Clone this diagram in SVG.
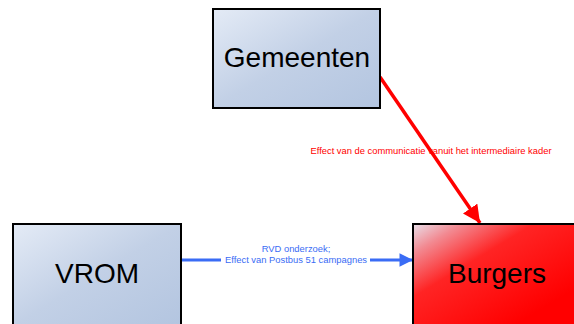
<svg xmlns="http://www.w3.org/2000/svg" width="574" height="324" viewBox="0 0 574 324">
<style>
.box{stroke:#000;stroke-width:2}
.lbl{font-family:"Liberation Sans",Arial,sans-serif;font-size:28px;fill:#000;text-anchor:middle}
.small{font-family:"Liberation Sans",Arial,sans-serif;font-size:9.4px;text-anchor:middle}
</style>
<defs>
<linearGradient id="gBlue" x1="0" y1="0" x2="1" y2="1">
<stop offset="0" stop-color="#e4ebf6"/>
<stop offset="0.5" stop-color="#c2d0e6"/>
<stop offset="1" stop-color="#b3c5e0"/>
</linearGradient>
<linearGradient id="gRed" x1="0" y1="0" x2="0.8" y2="0.8">
<stop offset="0" stop-color="#e8e0ea"/>
<stop offset="0.18" stop-color="#f28a92"/>
<stop offset="0.45" stop-color="#ff2424"/>
<stop offset="1" stop-color="#ff0000"/>
</linearGradient>
<marker id="aRed" viewBox="0 0 10 10" refX="10" refY="5" markerWidth="5" markerHeight="5" markerUnits="strokeWidth" orient="auto">
<path d="M0,0 L10,5 L0,10 Z" fill="#ff0000"/>
</marker>
<marker id="aBlue" viewBox="0 0 10 10" refX="10" refY="5" markerWidth="5" markerHeight="4.5" markerUnits="strokeWidth" orient="auto">
<path d="M0,0 L10,5 L0,10 Z" fill="#3a6cf5"/>
</marker>
</defs>
<g id="connectors">
<line x1="380" y1="77" x2="480" y2="223" stroke="#ff0000" stroke-width="3.5" marker-end="url(#aRed)"/>
<line x1="181" y1="260" x2="413" y2="260" stroke="#3a6cf5" stroke-width="3" marker-end="url(#aBlue)"/>
<rect x="221" y="255" width="149" height="10" fill="#fff"/>
<text class="small" x="431" y="154" fill="#ff0000">Effect van de communicatie vanuit het intermediaire kader</text>
<text class="small" x="296" y="252" fill="#3a6cf5">RVD onderzoek;</text>
<text class="small" x="296" y="263" fill="#3a6cf5">Effect van Postbus 51 campagnes</text>
</g>
<g id="gemeenten">
<rect class="box" x="213" y="9" width="167" height="99" fill="url(#gBlue)"/>
<text class="lbl" x="297" y="67">Gemeenten</text>
</g>
<g id="vrom">
<rect class="box" x="13" y="224" width="168" height="102" fill="url(#gBlue)"/>
<text class="lbl" x="97" y="283">VROM</text>
</g>
<g id="burgers">
<rect class="box" x="413" y="224" width="168" height="102" fill="url(#gRed)"/>
<text class="lbl" x="497" y="283">Burgers</text>
</g>
</svg>
